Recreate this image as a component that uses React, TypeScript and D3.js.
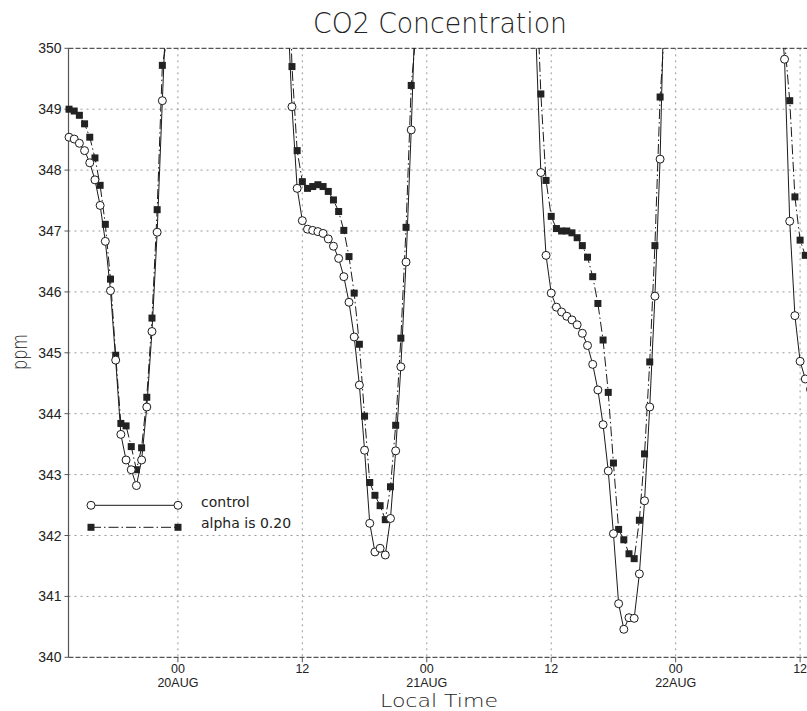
import React from 'react';
import * as d3 from 'd3';

// ---- Data (hours relative to 00 LT 20AUG, ppm) ----
const yTicks = [340, 341, 342, 343, 344, 345, 346, 347, 348, 349, 350];
const xTickHours = [0, 12, 24, 36, 48, 60];
const xTickLabels = ['00', '12', '00', '12', '00', '12'];
const xTickDates = ['20AUG', '', '21AUG', '', '22AUG', ''];

const seg1Hours = [-10.5, -10, -9.5, -9, -8.5, -8, -7.5, -7, -6.5, -6, -5.5, -5, -4.5, -4, -3.5, -3, -2.5, -2, -1.5, -1];
const seg1Control = [348.54, 348.51, 348.44, 348.32, 348.12, 347.84, 347.42, 346.83, 346.02, 344.88, 343.66, 343.24, 343.08, 342.82, 343.24, 344.11, 345.35, 346.98, 349.14, 351.2];
const seg1Alpha = [349.0, 348.97, 348.9, 348.76, 348.54, 348.2, 347.75, 347.11, 346.21, 344.96, 343.84, 343.8, 343.46, 343.08, 343.44, 344.27, 345.57, 347.35, 349.72, 350.2];

const seg2Hours = [10.5, 11, 11.5, 12, 12.5, 13, 13.5, 14, 14.5, 15, 15.5, 16, 16.5, 17, 17.5, 18, 18.5, 19, 19.5, 20, 20.5, 21, 21.5, 22, 22.5, 23];
const seg2Control = [351.0, 349.04, 347.7, 347.17, 347.03, 347.01, 346.99, 346.96, 346.87, 346.75, 346.55, 346.25, 345.83, 345.26, 344.47, 343.4, 342.2, 341.73, 341.79, 341.68, 342.28, 343.39, 344.77, 346.49, 348.66, 351.2];
const seg2Alpha = [352.5, 349.7, 348.32, 347.81, 347.7, 347.73, 347.76, 347.73, 347.65, 347.51, 347.32, 347.01, 346.58, 345.98, 345.14, 343.96, 342.87, 342.66, 342.49, 342.26, 342.8, 343.81, 345.24, 347.06, 349.39, 350.33];

const seg3Hours = [34.5, 35, 35.5, 36, 36.5, 37, 37.5, 38, 38.5, 39, 39.5, 40, 40.5, 41, 41.5, 42, 42.5, 43, 43.5, 44, 44.5, 45, 45.5, 46, 46.5, 47];
const seg3Control = [350.3, 347.96, 346.6, 345.98, 345.75, 345.67, 345.6, 345.54, 345.46, 345.32, 345.12, 344.81, 344.39, 343.82, 343.06, 342.03, 340.88, 340.46, 340.65, 340.64, 341.37, 342.57, 344.11, 345.93, 348.18, 351.7];
const seg3Alpha = [351.5, 349.25, 347.83, 347.24, 347.04, 347.0, 347.0, 346.97, 346.89, 346.76, 346.57, 346.25, 345.81, 345.21, 344.35, 343.19, 342.1, 341.93, 341.7, 341.62, 342.25, 343.34, 344.85, 346.76, 349.2, 350.5];

const seg4Hours = [58, 58.5, 59, 59.5, 60, 60.5, 61];
const seg4Control = [350.9, 349.82, 347.16, 345.61, 344.86, 344.57, 344.4];
const seg4Alpha = [351.0, 350.13, 349.14, 347.56, 346.85, 346.6, 346.5];

const segHours = [seg1Hours, seg2Hours, seg3Hours, seg4Hours];
const controlSegs = [seg1Control, seg2Control, seg3Control, seg4Control];
const alphaSegs = [seg1Alpha, seg2Alpha, seg3Alpha, seg4Alpha];

const legendLabels = ['control', 'alpha is 0.20'];

export default function App() {
  const W = 807;
  const H = 711;
  const left = 68.5;
  const top = 48.3;
  const bottom = 657.3;
  const pxPerHour = 10.37;
  const x = d3.scaleLinear().domain([-10.55, 62]).range([left, left + 72.55 * pxPerHour]);
  const y = d3.scaleLinear().domain([340, 350]).range([bottom, top]);
  const line = d3
    .line<[number, number]>()
    .x((d) => x(d[0]))
    .y((d) => y(d[1]));

  const pairs = (hours: number[], vals: number[]) =>
    hours.map((h, i) => [h, vals[i]] as [number, number]);

  const controlData = segHours.map((h, i) => pairs(h, controlSegs[i]));
  const alphaData = segHours.map((h, i) => pairs(h, alphaSegs[i]));

  const ink = '#1a1a1a';
  const grid = '#9a9a9a';
  const sq = 7;
  const r = 4;
  const tickFont = "'Liberation Sans', Arial, sans-serif";
  const narrowFont = "'Liberation Sans Narrow', 'Liberation Sans', Arial, sans-serif";
  const lightFont = "'DejaVu Sans', sans-serif";

  const rightEdge = W + 20;

  return (
    <svg
      width={W}
      height={H}
      viewBox={`0 0 ${W} ${H}`}
      style={{ position: 'absolute', left: 0, top: 0, display: 'block', background: '#fff' }}
    >
      <defs>
        <clipPath id="plotClip">
          <rect x={0} y={top} width={W + 50} height={bottom - top} />
        </clipPath>
      </defs>
      <rect x={0} y={0} width={W} height={H} fill="#fff" />

      {/* horizontal grid */}
      {yTicks
        .filter((v) => v !== 340 && v !== 350)
        .map((v) => (
          <line
            key={'hg' + v}
            x1={left}
            x2={rightEdge}
            y1={y(v)}
            y2={y(v)}
            stroke={grid}
            strokeWidth={1}
            strokeDasharray="2,4"
          />
        ))}
      {/* vertical grid */}
      {xTickHours.map((h) => (
        <line
          key={'vg' + h}
          x1={x(h)}
          x2={x(h)}
          y1={top}
          y2={bottom}
          stroke={grid}
          strokeWidth={1}
          strokeDasharray="2,4"
        />
      ))}

      {/* frame: dashed top/bottom, solid left */}
      <line x1={left} x2={rightEdge} y1={top} y2={top} stroke="#555" strokeWidth={1.2} strokeDasharray="5,2" />
      <line x1={left} x2={rightEdge} y1={bottom} y2={bottom} stroke="#555" strokeWidth={1.2} strokeDasharray="5,2" />
      <line x1={left} x2={left} y1={top} y2={bottom} stroke="#555" strokeWidth={1.2} />

      {/* y ticks + labels */}
      {yTicks.map((v) => (
        <g key={'yt' + v}>
          <line x1={left - 4} x2={left} y1={y(v)} y2={y(v)} stroke="#555" strokeWidth={1} />
          <text
            x={61.5}
            y={y(v) + 5}
            textAnchor="end"
            fontFamily={tickFont}
            fontSize={14}
            fill="#222"
          >
            {v}
          </text>
        </g>
      ))}

      {/* x ticks + labels */}
      {xTickHours.map((h, i) => (
        <g key={'xt' + h}>
          <line x1={x(h)} x2={x(h)} y1={bottom} y2={bottom + 5} stroke="#555" strokeWidth={1} />
          <text x={x(h)} y={672.8} textAnchor="middle" fontFamily={tickFont} fontSize={12.5} fill="#222">
            {xTickLabels[i]}
          </text>
          {xTickDates[i] && (
            <text x={x(h)} y={686.5} textAnchor="middle" fontFamily={narrowFont} fontSize={12.5} fill="#222">
              {xTickDates[i]}
            </text>
          )}
        </g>
      ))}

      {/* series */}
      <g clipPath="url(#plotClip)">
        {alphaData.map((d, i) => (
          <path
            key={'al' + i}
            d={line(d) || ''}
            fill="none"
            stroke={ink}
            strokeWidth={1}
            strokeDasharray="10,3,1.5,3"
          />
        ))}
        {controlData.map((d, i) => (
          <path key={'cl' + i} d={line(d) || ''} fill="none" stroke={ink} strokeWidth={1} />
        ))}
        {alphaData.map((d, i) =>
          d.map((p, j) => (
            <rect
              key={'as' + i + '-' + j}
              x={x(p[0]) - sq / 2}
              y={y(p[1]) - sq / 2}
              width={sq}
              height={sq}
              fill="#222"
            />
          ))
        )}
        {controlData.map((d, i) =>
          d.map((p, j) => (
            <circle
              key={'cc' + i + '-' + j}
              cx={x(p[0])}
              cy={y(p[1])}
              r={r}
              fill="#fff"
              stroke={ink}
              strokeWidth={1}
            />
          ))
        )}
      </g>

      {/* legend */}
      <g>
        <line x1={91} x2={178} y1={505.3} y2={505.3} stroke={ink} strokeWidth={1} />
        <circle cx={91} cy={505.3} r={r} fill="#fff" stroke={ink} strokeWidth={1} />
        <circle cx={178} cy={505.3} r={r} fill="#fff" stroke={ink} strokeWidth={1} />
        <text x={201} y={506.8} fontFamily={lightFont} fontSize={14} fill="#222">
          {legendLabels[0]}
        </text>
        <line x1={91} x2={178} y1={527.3} y2={527.3} stroke={ink} strokeWidth={1} strokeDasharray="10,3,1.5,3" />
        <rect x={91 - sq / 2} y={527.3 - sq / 2} width={sq} height={sq} fill="#222" />
        <rect x={178 - sq / 2} y={527.3 - sq / 2} width={sq} height={sq} fill="#222" />
        <text x={201} y={528} fontFamily={lightFont} fontSize={14} fill="#222">
          {legendLabels[1]}
        </text>
      </g>

      {/* titles */}
      <text
        x={440}
        y={33}
        textAnchor="middle"
        fontFamily={lightFont}
        fontWeight={200}
        fontSize={28}
        textLength={254}
        lengthAdjust="spacingAndGlyphs"
        fill="#222"
      >
        CO2 Concentration
      </text>
      <text
        x={439}
        y={706.5}
        textAnchor="middle"
        fontFamily={lightFont}
        fontWeight={200}
        fontSize={18.5}
        textLength={118}
        lengthAdjust="spacingAndGlyphs"
        fill="#222"
      >
        Local Time
      </text>
      <text
        transform={`translate(27,352) rotate(-90)`}
        textAnchor="middle"
        fontFamily={lightFont}
        fontWeight={200}
        fontSize={21}
        textLength={36}
        lengthAdjust="spacingAndGlyphs"
        fill="#222"
      >
        ppm
      </text>
    </svg>
  );
}
